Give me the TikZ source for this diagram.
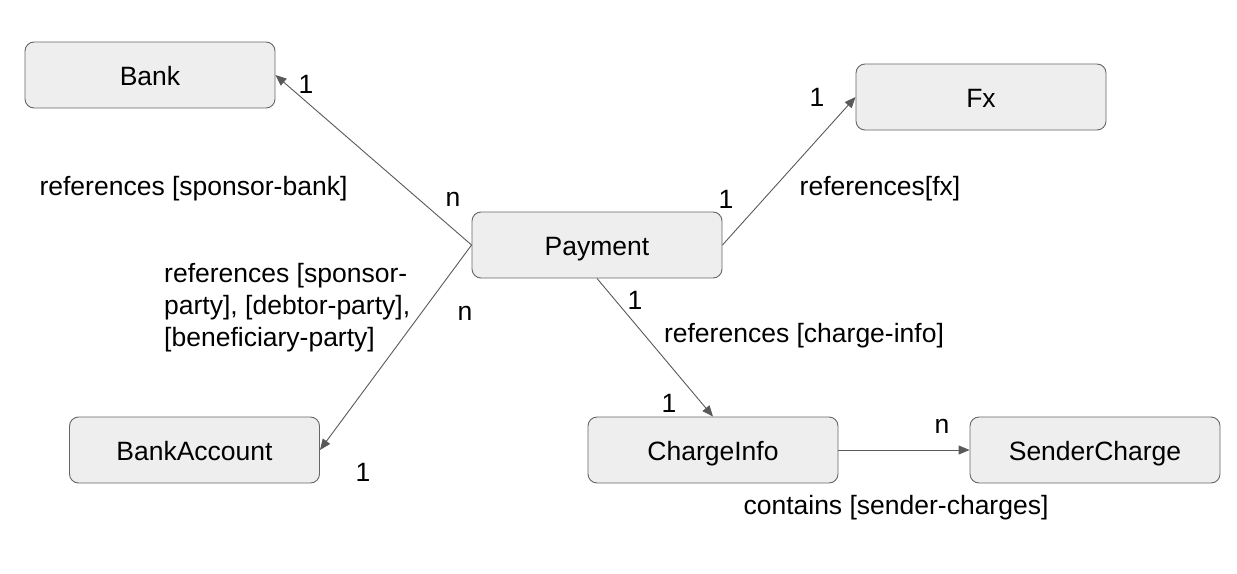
\documentclass[tikz,border=0pt]{standalone}
\usepackage{fontspec}
\setmainfont{Liberation Sans}
\usetikzlibrary{arrows.meta}
\definecolor{boxfill}{HTML}{EEEEEE}
\definecolor{boxline}{HTML}{666666}
\definecolor{conn}{HTML}{595959}
\begin{document}
\begin{tikzpicture}[x=1pt,y=-1pt,
  entity/.style={draw=boxline,fill=boxfill,rounded corners=9pt,minimum width=250pt,minimum height=66pt,inner sep=0pt,line width=0.9pt,font=\fontsize{26.5}{31}\selectfont,text height=22pt,text depth=2pt},
  lbl/.style={font=\fontsize{26.5}{31}\selectfont,inner sep=0pt,yshift=-2.5pt},
  rel/.style={draw=conn,line width=0.9pt,-{Triangle[length=11pt,width=9pt]}}]
\useasboundingbox (0,0) rectangle (1237,573);
\node[entity] (bank) at (150,75) {Bank};
\node[entity] (fx) at (981,97) {Fx};
\node[entity] (pay) at (597,245) {Payment};
\node[entity] (acct) at (194.5,450) {BankAccount};
\node[entity] (ci) at (713,450) {ChargeInfo};
\node[entity] (sc) at (1095,450) {SenderCharge};
\draw[rel] (pay.west) -- (bank.east);
\draw[rel] (pay.west) -- (acct.east);
\draw[rel] (pay.east) -- (fx.west);
\draw[rel] (pay.south) -- (ci.north);
\draw[rel] (ci.east) -- (sc.west);
\node[lbl] (l1) at (306,82) {1};
\node[lbl] (l2) at (453,197) {n};
\node[lbl] (t1) at (193.5,186) {references [sponsor-bank]};
\node[lbl,align=left,anchor=north west] (t2) at (164,261) {references [sponsor-\\[1pt]party], [debtor-party],\\[1pt]{}[beneficiary-party]};
\node[lbl] (l3) at (465,311) {n};
\node[lbl] (l4) at (363,470) {1};
\node[lbl] (l5) at (817,95) {1};
\node[lbl] (l6) at (726,197) {1};
\node[lbl] (t3) at (880,186) {references[fx]};
\node[lbl] (l7) at (635,298) {1};
\node[lbl] (t4) at (804,333) {references [charge-info]};
\node[lbl] (l8) at (669,401) {1};
\node[lbl] (l9) at (942,424) {n};
\node[lbl] (t5) at (896,505) {contains [sender-charges]};
\end{tikzpicture}
\end{document}
